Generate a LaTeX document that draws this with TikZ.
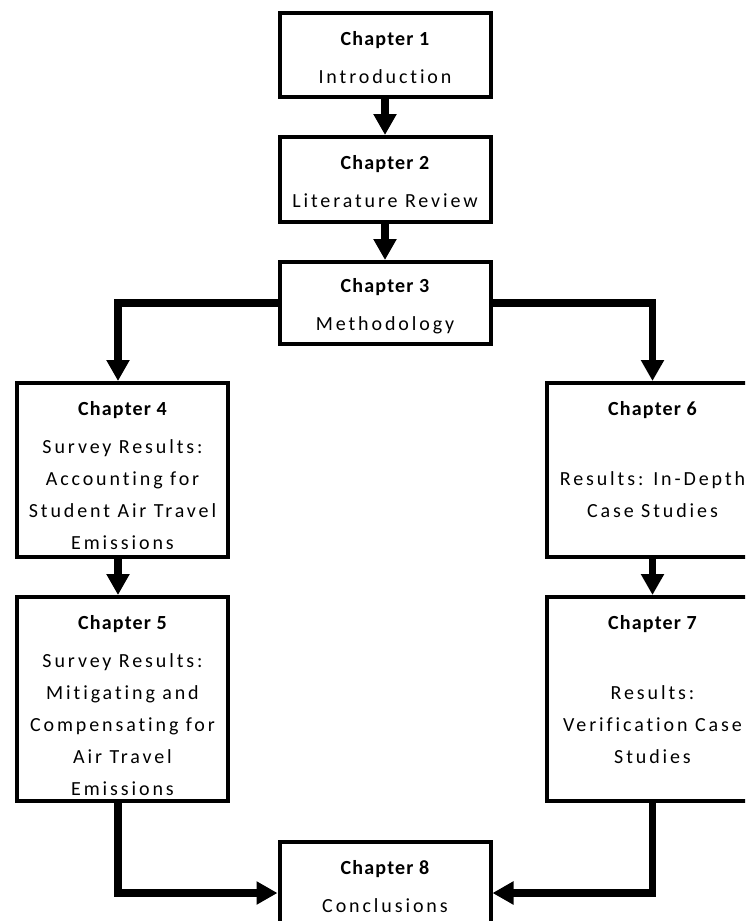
\documentclass[tikz,border=0pt]{standalone}
\usepackage{fontspec}
\setmainfont{Carlito}
\newfontfamily\bodyfont{Carlito}[LetterSpace=14.5, Ligatures=NoCommon]
\newfontfamily\headfont{Carlito}[LetterSpace=6, Ligatures=NoCommon]
\usetikzlibrary{arrows.meta,calc}

\tikzset{
  chapbox/.style={draw, line width=4pt, minimum width=211pt, minimum height=#1, inner sep=0pt},
  boxtext/.style={anchor=north, inner sep=0pt, align=center,
    font=\bodyfont\fontsize{20}{32}\selectfont},
  conn/.style={line width=7.5pt, line join=miter, -{Triangle[length=21pt,width=22pt]}},
}
\newcommand{\chaphead}[1]{\rule{0pt}{15pt}{\headfont\bfseries #1}}

\begin{document}
\begin{tikzpicture}[x=1pt, y=-1pt]
  \useasboundingbox (0,0) rectangle (745,921);
  \clip (0,0) rectangle (745,921);

  % chapter boxes
  \node[chapbox=84pt]  (b1) at (385,55)    {};
  \node[chapbox=85pt]  (b2) at (385,179.5) {};
  \node[chapbox=82pt]  (b3) at (385,303)   {};
  \node[chapbox=174pt] (b4) at (122.5,470) {};
  \node[chapbox=204pt] (b5) at (122.5,699) {};
  \node[chapbox=174pt] (b6) at (652.5,470) {};
  \node[chapbox=204pt] (b7) at (652.5,699) {};
  \node[chapbox=102pt] (b8) at (385,893)   {};

  % box contents
  \node[boxtext] (t1) at ($(b1.north)+(0,19)$) {\chaphead{Chapter 1}\\[6pt]Introduction};
  \node[boxtext] (t2) at ($(b2.north)+(0,19)$) {\chaphead{Chapter 2}\\[6pt]Literature Review};
  \node[boxtext] (t3) at ($(b3.north)+(0,17)$) {\chaphead{Chapter 3}\\[6pt]Methodology};
  \node[boxtext] (t4) at ($(b4.north)+(0,19)$) {\chaphead{Chapter 4}\\[6pt]Survey Results:\\Accounting for\\Student Air Travel\\Emissions};
  \node[boxtext] (t5) at ($(b5.north)+(0,19)$) {\chaphead{Chapter 5}\\[6pt]Survey Results:\\Mitigating and\\Compensating for\\Air Travel\\Emissions};
  \node[boxtext] (t6) at ($(b6.north)+(0,19)$) {\chaphead{Chapter 6}\\[38pt]Results: In-Depth\\Case Studies};
  \node[boxtext] (t7) at ($(b7.north)+(0,19)$) {\chaphead{Chapter 7}\\[38pt]Results:\\Verification Case\\Studies};
  \node[boxtext] (t8) at ($(b8.north)+(0,19)$) {\chaphead{Chapter 8}\\[6pt]Conclusions};

  % connectors
  \draw[conn] (b1.south) -- (b2.north);
  \draw[conn] (b2.south) -- (b3.north);
  \draw[conn] (b3.west) -| ($(b4.north)+(-4.5,0)$);
  \draw[conn] (b3.east) -| (b6.north);
  \draw[conn] ($(b4.south)+(-4.5,0)$) -- ($(b5.north)+(-4.5,0)$);
  \draw[conn] (b6.south) -- (b7.north);
  \draw[conn] ($(b5.south)+(-4.5,0)$) |- (b8.west);
  \draw[conn] (b7.south) |- (b8.east);
\end{tikzpicture}
\end{document}
